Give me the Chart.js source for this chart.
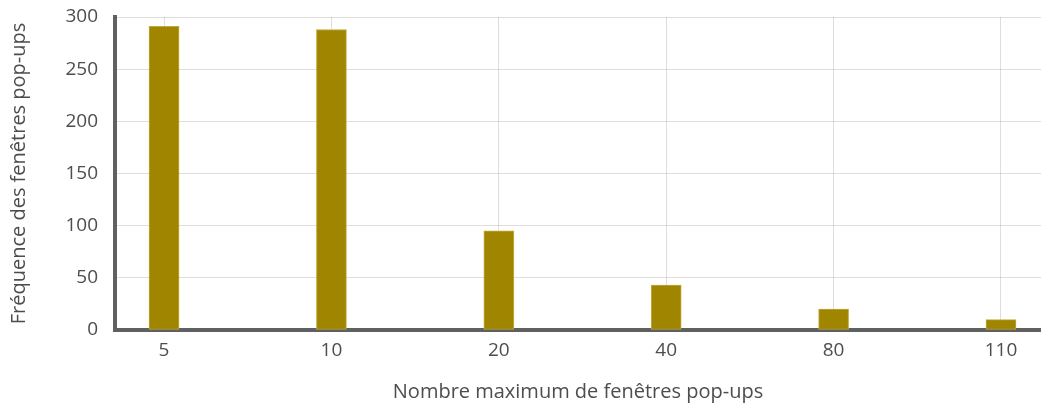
<!DOCTYPE html>
<html>
<head>
<meta charset="utf-8">
<script src="https://cdn.jsdelivr.net/npm/chart.js@4"></script>
<style>
  html, body { margin: 0; padding: 0; background: #fff; }
  #wrap { width: 1041px; height: 408px; }
</style>
</head>
<body>
<div id="wrap"><canvas id="graf"></canvas></div>
<script>
// ── Données ─────────────────────────────
const categories = ['5', '10', '20', '40', '80', '110']
const frequences = [291, 288, 95, 43, 20, 10]
const yTicks     = [0, 50, 100, 150, 200, 250, 300]

const points = categories.map((c, i) => ({ x: i, y: frequences[i] }))

Chart.defaults.font.family = "'Open Sans', sans-serif"
Chart.defaults.color = '#4d4d4d'

new Chart(document.getElementById('graf'), {
  type: 'bar',
  data: {
    datasets: [{
      label: 'Fréquence',
      data: points,
      backgroundColor: '#9f8500',
      borderColor: '#c2a935',
      borderWidth: 1,
      borderSkipped: false,
      barThickness: 30
    }]
  },
  options: {
    responsive: true,
    maintainAspectRatio: false,
    animation: false,
    layout: { padding: { top: 17, right: 0, left: 0, bottom: 0 } },
    plugins: { legend: { display: false }, tooltip: { enabled: false } },
    scales: {
      x: {
        type: 'linear',
        min: -0.293,
        max: 5.239,
        offset: false,
        z: 1,
        afterBuildTicks: s => { s.ticks = categories.map((c, i) => ({ value: i })) },
        afterFit: s => { s.height = 78 },
        ticks: {
          callback: v => categories[v],
          font: { size: 19 },
          color: '#4d4d4d',
          padding: 9
        },
        grid: { offset: false, color: 'rgba(0,0,0,0.13)', drawTicks: false, lineWidth: 1 },
        border: { display: true, width: 4, color: '#5f6062' },
        title: {
          display: true,
          text: 'Nombre maximum de fenêtres pop-ups',
          font: { size: 20 },
          color: '#4d4d4d',
          padding: { top: 10 }
        }
      },
      y: {
        min: 0,
        max: 300,
        z: 1,
        afterBuildTicks: s => { s.ticks = yTicks.map(v => ({ value: v })) },
        afterFit: s => { s.width = 115; s.paddingTop = 0; s.paddingBottom = 0 },
        ticks: { font: { size: 19 }, color: '#4d4d4d', padding: 17 },
        grid: { color: 'rgba(0,0,0,0.13)', drawTicks: false, lineWidth: 1 },
        border: { display: true, width: 4, color: '#5f6062' },
        title: {
          display: true,
          text: 'Fréquence des fenêtres pop-ups',
          font: { size: 20 },
          color: '#4d4d4d',
          padding: { top: 7, bottom: 4 }
        }
      }
    }
  }
})
</script>
</body>
</html>
